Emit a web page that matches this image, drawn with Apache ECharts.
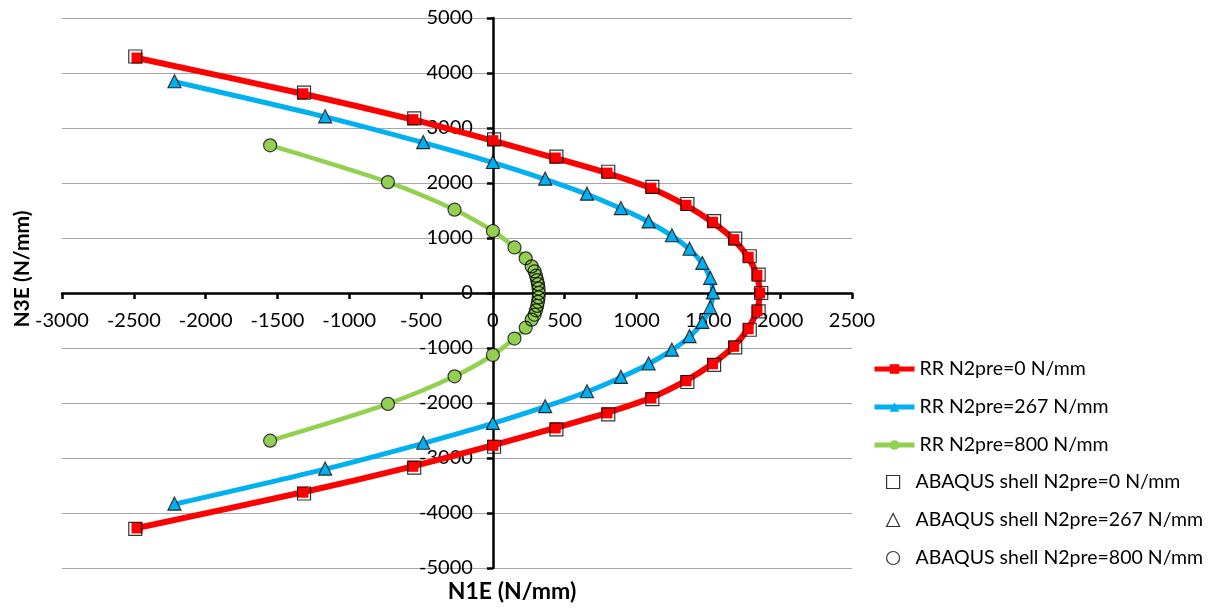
<!DOCTYPE html>
<html>
<head>
<meta charset="utf-8">
<script src="https://cdn.jsdelivr.net/npm/echarts@6/dist/echarts.min.js"></script>
<style>
  html, body { margin: 0; padding: 0; background: #fff; }
  #chart { width: 1215px; height: 610px; }
</style>
</head>
<body>
<div id="chart"></div>
<script>
// RR model curves, [N1E, N3E] in N/mm
const rrN0 = [
  [-2478, 4272], [-1323, 3622], [-557, 3151], [0, 2769], [434, 2454], [794, 2180],
  [1100, 1906], [1344, 1594], [1529, 1286], [1676, 970], [1777, 650], [1838, 322],
  [1857, 0],
  [1838, -322], [1777, -650], [1676, -970], [1529, -1286], [1344, -1594], [1100, -1906],
  [794, -2180], [434, -2454], [0, -2769], [-557, -3151], [-1323, -3622], [-2478, -4272]
];
const rrN267 = [
  [-2217, 3840], [-1168, 3202], [-485, 2733], [0, 2372], [364, 2068], [655, 1796],
  [891, 1535], [1084, 1292], [1246, 1040], [1369, 795], [1458, 536], [1513, 266],
  [1530, 0],
  [1513, -266], [1458, -536], [1369, -795], [1246, -1040], [1084, -1292], [891, -1535],
  [655, -1796], [364, -2068], [0, -2372], [-485, -2733], [-1168, -3202], [-2217, -3840]
];
const rrN800 = [
  [-1551, 2685], [-731, 2016], [-267, 1515], [0, 1127], [150, 828], [228, 630],
  [270, 484], [290, 395], [300, 315], [308, 235], [314, 160], [318, 80], [320, 0],
  [318, -80], [314, -160], [308, -235], [300, -315], [290, -395], [270, -484],
  [228, -630], [150, -828], [0, -1127], [-267, -1515], [-731, -2016], [-1551, -2685]
];

// ABAQUS shell results (sit a hair outside the RR squares)
const abqN0 = [
  [-2490, 4300], [-1315, 3645], [-548, 3175], [8, 2795], [442, 2478], [803, 2205],
  [1110, 1930], [1354, 1618], [1540, 1308], [1687, 990], [1788, 668], [1850, 335],
  [1868, 0],
  [1850, -335], [1788, -668], [1687, -990], [1540, -1308], [1354, -1618], [1110, -1930],
  [803, -2205], [442, -2478], [8, -2795], [-548, -3175], [-1315, -3645], [-2490, -4290]
];
const abqN267 = [
  [-2217, 3850], [-1168, 3212], [-485, 2743], [0, 2382], [364, 2078], [655, 1806],
  [891, 1545], [1084, 1302], [1246, 1050], [1369, 805], [1458, 546], [1513, 276],
  [1532, 10],
  [1513, -256], [1458, -526], [1369, -785], [1246, -1030], [1084, -1282], [891, -1525],
  [655, -1786], [364, -2058], [0, -2362], [-485, -2723], [-1168, -3192], [-2217, -3830]
];
const abqN800 = rrN800.slice();

const xTicks = { min: -3000, max: 2500, step: 500 };
const yTicks = { min: -5000, max: 5000, step: 1000 };

const names = [
  'RR N2pre=0 N/mm', 'RR N2pre=267 N/mm', 'RR N2pre=800 N/mm',
  'ABAQUS shell N2pre=0 N/mm', 'ABAQUS shell N2pre=267 N/mm', 'ABAQUS shell N2pre=800 N/mm'
];

const FONT = 'Lato';
const W = 1215, H = 610;
const grid = { left: 62, right: 363, top: 18, bottom: 42 };
// the axes cross at 0/0, so shift them there with offset (labels follow)
const plotW = W - grid.left - grid.right;
const plotH = H - grid.top - grid.bottom;
const yAxisOffset = -plotW * (0 - xTicks.min) / (xTicks.max - xTicks.min);
const xAxisOffset = -plotH * (0 - yTicks.min) / (yTicks.max - yTicks.min);

const chart = echarts.init(document.getElementById('chart'));

function rrLine(name, data, color, symbol, size, width) {
  return {
    name: name,
    type: 'line',
    data: data,
    smooth: 0.3,
    symbol: symbol,
    symbolSize: size,
    showAllSymbol: true,
    lineStyle: { color: color, width: width },
    itemStyle: { color: color, borderColor: color, borderWidth: 0 },
    emphasis: { disabled: true },
    z: 2
  };
}

function abqScatter(name, data, symbol, size) {
  return {
    name: name,
    type: 'scatter',
    data: data,
    symbol: symbol,
    symbolSize: size,
    itemStyle: { color: 'rgba(0,0,0,0)', borderColor: '#000', borderWidth: 1.2 },
    emphasis: { disabled: true },
    z: 3
  };
}

chart.setOption({
  animation: false,
  backgroundColor: '#fff',
  textStyle: { fontFamily: FONT },
  grid: grid,
  xAxis: {
    type: 'value',
    min: xTicks.min, max: xTicks.max, interval: xTicks.step,
    offset: xAxisOffset,
    axisLine: { onZero: false, lineStyle: { color: '#000', width: 2.5 } },
    axisTick: { show: true, length: 6, lineStyle: { color: '#000', width: 2.5 } },
    axisLabel: { color: '#000', fontSize: 20, fontFamily: FONT, margin: 18, formatter: v => String(v) },
    splitLine: { show: false }
  },
  yAxis: {
    type: 'value',
    min: yTicks.min, max: yTicks.max, interval: yTicks.step,
    offset: yAxisOffset,
    axisLine: { onZero: false, lineStyle: { color: '#000', width: 2.5 } },
    axisTick: { show: true, length: 6, lineStyle: { color: '#000', width: 2.5 } },
    axisLabel: { color: '#000', fontSize: 20, fontFamily: FONT, margin: 20, formatter: v => String(v) },
    splitLine: { show: true, lineStyle: { color: '#A6A6A6', width: 1 } }
  },
  legend: [
    {
      data: names.slice(0, 3),
      orient: 'vertical',
      left: 867, top: 354,
      itemWidth: 40, itemHeight: 12, itemGap: 18,
      lineStyle: { width: 5 },
      textStyle: { color: '#000', fontSize: 19.5, fontFamily: FONT, lineHeight: 20 }
    },
    {
      data: names.slice(3),
      orient: 'vertical',
      left: 881, top: 467,
      itemWidth: 13, itemHeight: 13, itemGap: 18,
      itemStyle: { color: 'rgba(0,0,0,0)', borderColor: '#000', borderWidth: 1.2 },
      textStyle: { color: '#000', fontSize: 19.5, fontFamily: FONT, lineHeight: 20, padding: [0, 0, 0, 11] }
    }
  ],
  graphic: [
    {
      type: 'text', x: 512, y: 592,
      style: { text: 'N1E (N/mm)', fontSize: 23, fontWeight: 'bold', fontFamily: FONT, fill: '#000',
        align: 'center', verticalAlign: 'middle', textAlign: 'center', textVerticalAlign: 'middle' }
    },
    {
      type: 'text', x: 22, y: 269, rotation: Math.PI / 2,
      style: { text: 'N3E (N/mm)', fontSize: 21, fontWeight: 'bold', fontFamily: FONT, fill: '#000',
        align: 'center', verticalAlign: 'middle', textAlign: 'center', textVerticalAlign: 'middle' }
    }
  ],
  series: [
    rrLine(names[0], rrN0, '#FF0000', 'rect', 11, 6),
    rrLine(names[1], rrN267, '#00B0F0', 'triangle', 12, 5),
    rrLine(names[2], rrN800, '#92D050', 'circle', 12, 4.5),
    abqScatter(names[3], abqN0, 'rect', 13),
    abqScatter(names[4], abqN267, 'triangle', 13),
    abqScatter(names[5], abqN800, 'circle', 13)
  ]
});
</script>
</body>
</html>
